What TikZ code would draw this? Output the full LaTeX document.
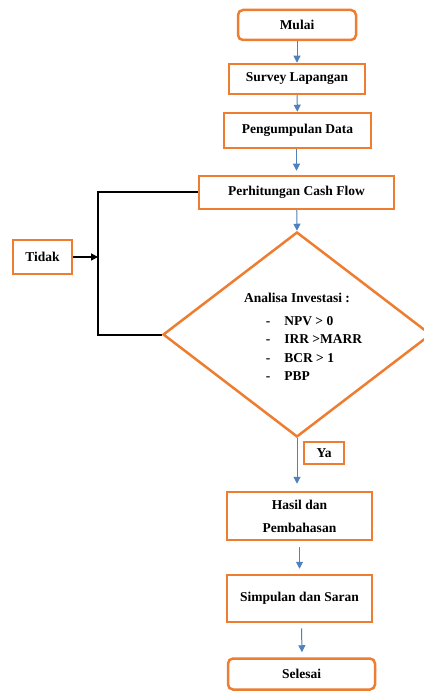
\documentclass[tikz,border=0pt]{standalone}
\usepackage{fontspec}
\setmainfont{Liberation Serif}
\usepackage{tikz}
\usetikzlibrary{arrows.meta,positioning,shapes.geometric}
\definecolor{oranye}{RGB}{237,125,49}
\definecolor{biru}{RGB}{79,129,189}
\tikzset{
  kotak/.style={
    rectangle,
    draw=oranye, line width=2.5pt,
    inner sep=0pt,
    align=center,
    font=\fontsize{13.5}{23}\selectfont\bfseries},
  kotakbulat/.style={kotak, rounded corners=5pt},
  keputusan/.style={
    diamond, aspect=1.3,
    draw=oranye, line width=2.5pt,
    minimum width=268pt, minimum height=205pt,
    inner sep=0pt,
    align=center,
    font=\fontsize{13.5}{18.3}\selectfont\bfseries},
  panah/.style={draw=biru, line width=1pt, -{Triangle[width=7pt,length=7pt]}},
  garis/.style={draw=black, line width=2pt},
  panahhitam/.style={draw=black, line width=1.5pt, -{Triangle[width=7pt,length=7pt]}},
}
\begin{document}
\begin{tikzpicture}[x=1pt,y=-1pt]
  \useasboundingbox (0,0) rectangle (423,692);
  \node[kotakbulat, minimum width=118pt, minimum height=30pt] (mulai) at (297,25) {Mulai};
  \node[kotak, minimum width=136pt, minimum height=30pt] (survey) at (297,79) {Survey Lapangan};
  \node[kotak, minimum width=147pt, minimum height=35pt] (data) at (297.5,130.5) {Pengumpulan Data};
  \node[kotak, minimum width=195pt, minimum height=33pt] (cashflow) at (296.5,192.5) {Perhitungan Cash Flow};
  \node[kotak, minimum width=59pt, minimum height=34pt] (tidak) at (42.5,257) {Tidak};
  \node[keputusan] (analisa) at (297,334.5) {\rule{0pt}{19.5pt}Analisa Investasi :\\[9pt]
    \hspace*{34pt}\begin{tabular}{@{}l@{\hspace{14pt}}l@{}}
      - & NPV > 0\\
      - & IRR >MARR\\
      - & BCR > 1\\
      - & PBP
    \end{tabular}};
  \node[kotak, minimum width=40pt, minimum height=22pt] (ya) at (324,453) {Ya};
  \node[kotak, minimum width=145pt, minimum height=48pt] (hasil) at (299.5,516) {Hasil dan\\Pembahasan};
  \node[kotak, minimum width=145pt, minimum height=47pt] (simpulan) at (299.5,598.5) {Simpulan dan Saran};
  \node[kotakbulat, minimum width=147pt, minimum height=31pt] (selesai) at (301.5,674) {Selesai};
  \coordinate (kiri) at (98,192.5);

  % alur utama
  \draw[panah] (mulai) -- (survey);
  \draw[panah] (survey) -- (data);
  \draw[panah, shorten >=4pt] (data.south -| cashflow) -- (cashflow);
  \draw[panah] (cashflow) -- (analisa.north);
  \draw[panah, shorten >=7pt] (analisa.south) -- (analisa.south |- hasil.north);
  \draw[panah, shorten <=6pt, shorten >=5pt] (hasil) -- (simpulan);
  \draw[panah, shorten <=5pt, shorten >=5pt] ([xshift=2pt]simpulan.south) -- ([xshift=0.5pt]selesai.north);

  % umpan balik
  \draw[garis] (cashflow.west) -- (kiri) |- (analisa.west);
  \draw[panahhitam] (tidak.east) -- (tidak.east -| kiri);
\end{tikzpicture}
\end{document}
